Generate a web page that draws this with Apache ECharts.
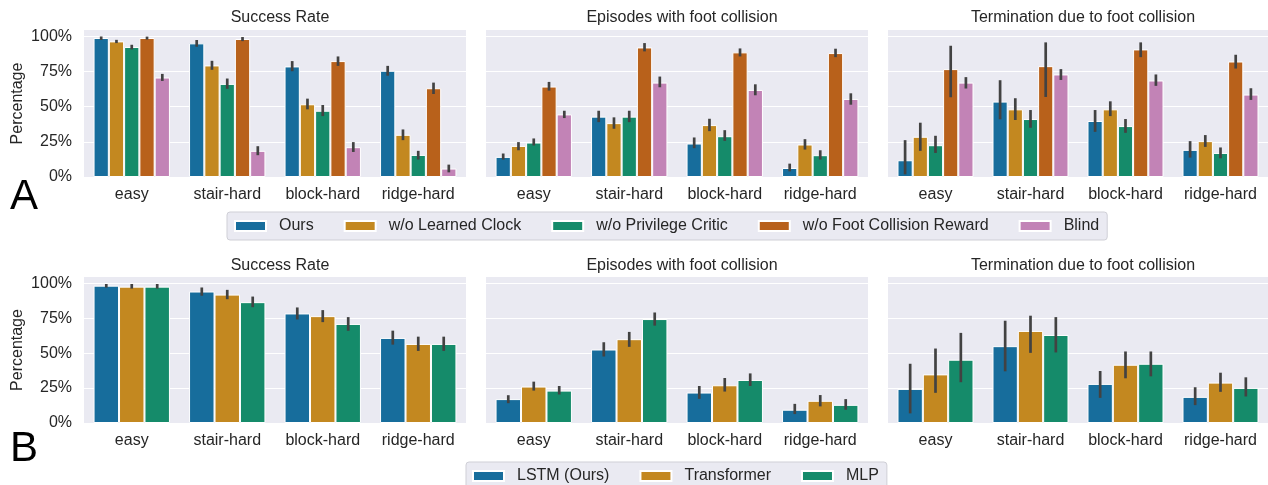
<!DOCTYPE html>
<html><head><meta charset="utf-8">
<script src="https://cdn.jsdelivr.net/npm/echarts@6/dist/echarts.min.js"></script>
<style>html,body{margin:0;padding:0;background:#fff}#c{width:1268px;height:485px}</style>
</head><body><div id="c"></div>
<script>
const categories = ['easy', 'stair-hard', 'block-hard', 'ridge-hard'];
const titles = ['Success Rate', 'Episodes with foot collision', 'Termination due to foot collision'];
const yTicks = [0, 0.25, 0.5, 0.75, 1.0];
const namesA = ['Ours', 'w/o Learned Clock', 'w/o Privilege Critic', 'w/o Foot Collision Reward', 'Blind'];
const namesB = ['LSTM (Ours)', 'Transformer', 'MLP'];

// Row A, panel 1: Success Rate (mean, low, high per series)
const A1_mean = [[0.988,0.95,0.786,0.755],[0.964,0.793,0.517,0.30],[0.924,0.662,0.471,0.157],[0.988,0.981,0.824,0.631],[0.707,0.186,0.212,0.06]];
const A1_lo   = [[0.974,0.926,0.752,0.72],[0.952,0.762,0.481,0.262],[0.907,0.627,0.433,0.124],[0.977,0.966,0.79,0.59],[0.683,0.155,0.178,0.033]];
const A1_hi   = [[0.999,0.974,0.824,0.79],[0.975,0.826,0.557,0.338],[0.94,0.7,0.512,0.186],[0.998,0.995,0.857,0.671],[0.733,0.219,0.248,0.088]];
// Row A, panel 2: Episodes with foot collision
const A2_mean = [[0.143,0.429,0.238,0.064],[0.221,0.383,0.369,0.231],[0.245,0.429,0.29,0.155],[0.643,0.921,0.886,0.881],[0.445,0.671,0.619,0.555]];
const A2_lo   = [[0.124,0.39,0.205,0.04],[0.19,0.343,0.326,0.195],[0.224,0.39,0.257,0.124],[0.614,0.893,0.857,0.852],[0.419,0.638,0.581,0.514]];
const A2_hi   = [[0.167,0.471,0.281,0.095],[0.248,0.424,0.414,0.269],[0.274,0.471,0.333,0.19],[0.676,0.952,0.914,0.912],[0.471,0.714,0.659,0.595]];
// Row A, panel 3: Termination due to foot collision
const A3_mean = [[0.119,0.536,0.398,0.193],[0.286,0.481,0.481,0.255],[0.226,0.412,0.362,0.171],[0.767,0.788,0.907,0.821],[0.671,0.729,0.686,0.586]];
const A3_lo   = [[0.019,0.41,0.321,0.138],[0.186,0.405,0.433,0.214],[0.171,0.35,0.314,0.133],[0.567,0.569,0.852,0.771],[0.629,0.69,0.648,0.548]];
const A3_hi   = [[0.262,0.688,0.476,0.255],[0.386,0.56,0.538,0.298],[0.293,0.476,0.412,0.21],[0.933,0.957,0.957,0.869],[0.71,0.767,0.729,0.631]];
// Row B, panel 1: Success Rate
const B1_mean = [[0.983,0.941,0.784,0.609],[0.976,0.919,0.765,0.566],[0.976,0.865,0.709,0.566]];
const B1_lo   = [[0.969,0.911,0.741,0.561],[0.962,0.886,0.722,0.516],[0.962,0.829,0.66,0.516]];
const B1_hi   = [[0.995,0.97,0.827,0.661],[0.995,0.953,0.808,0.618],[0.995,0.905,0.758,0.618]];
// Row B, panel 2: Episodes with foot collision
const B2_mean = [[0.171,0.526,0.218,0.095],[0.261,0.60,0.27,0.159],[0.232,0.744,0.308,0.13]];
const B2_lo   = [[0.142,0.476,0.173,0.064],[0.232,0.545,0.225,0.119],[0.204,0.697,0.265,0.095]];
const B2_hi   = [[0.199,0.578,0.265,0.137],[0.296,0.652,0.322,0.2],[0.265,0.791,0.355,0.171]];
// Row B, panel 3: Termination due to foot collision
const B3_mean = [[0.244,0.55,0.28,0.187],[0.348,0.659,0.417,0.289],[0.453,0.63,0.424,0.251]];
const B3_lo   = [[0.069,0.37,0.18,0.128],[0.216,0.502,0.32,0.223],[0.292,0.505,0.334,0.19]];
const B3_hi   = [[0.424,0.732,0.372,0.256],[0.533,0.768,0.512,0.36],[0.645,0.758,0.512,0.327]];

const colorsA = ['#176d9c','#c38820','#158b6a','#b8611b','#c283b6'];
const colorsB = ['#176d9c','#c38820','#158b6a'];

const FONT = 'Liberation Sans, Arial, sans-serif';
const TXT = '#262626';
const FS = 16;
const gridsPos = [
  {left:84, width:382, top:30, height:147},
  {left:486, width:382, top:30, height:147},
  {left:888, width:380, top:30, height:147},
  {left:84, width:382, top:277, height:146},
  {left:486, width:382, top:277, height:146},
  {left:888, width:380, top:277, height:146}
];
const panels = [
  {m:A1_mean, lo:A1_lo, hi:A1_hi, names:namesA, colors:colorsA},
  {m:A2_mean, lo:A2_lo, hi:A2_hi, names:namesA, colors:colorsA},
  {m:A3_mean, lo:A3_lo, hi:A3_hi, names:namesA, colors:colorsA},
  {m:B1_mean, lo:B1_lo, hi:B1_hi, names:namesB, colors:colorsB},
  {m:B2_mean, lo:B2_lo, hi:B2_hi, names:namesB, colors:colorsB},
  {m:B3_mean, lo:B3_lo, hi:B3_hi, names:namesB, colors:colorsB}
];

const grid = [], xAxis = [], yAxis = [], series = [], title = [];
panels.forEach((p, gi) => {
  const g = gridsPos[gi];
  grid.push(Object.assign({show:true, backgroundColor:'#eaeaf2', borderWidth:0, containLabel:false}, g));
  title.push({text: titles[gi % 3], left: g.left + g.width/2, top: gi < 3 ? 5 : 253, textAlign:'center',
    textStyle:{fontFamily:FONT, fontSize:FS, fontWeight:'normal', color:TXT}});
  xAxis.push({type:'category', gridIndex:gi, data:categories, axisLine:{show:false}, axisTick:{show:false},
    axisLabel:{interval:0, hideOverlap:false, fontFamily:FONT, fontSize:FS, color:TXT, margin:10}, splitLine:{show:false}});
  const first = gi % 3 === 0;
  yAxis.push({type:'value', gridIndex:gi, min:0, max:1.045, interval:0.25,
    axisLine:{show:false}, axisTick:{show:false},
    axisLabel:{show:first, fontFamily:FONT, fontSize:FS, color:TXT, margin:12, showMaxLabel:false,
      formatter: v => yTicks.some(t => Math.abs(t - v) < 1e-6) ? Math.round(v*100) + '%' : ''},
    splitLine:{show:true, showMaxLine:false, lineStyle:{color:'#ffffff', width:1}},
    name: first ? 'Percentage' : '', nameLocation:'middle', nameGap:58,
    nameTextStyle:{fontFamily:FONT, fontSize:FS, color:TXT}});
  const n = p.m.length;
  p.m.forEach((vals, si) => {
    series.push({type:'bar', name:p.names[si], xAxisIndex:gi, yAxisIndex:gi, data:vals,
      barCategoryGap:'20%', barGap:'0%', itemStyle:{color:p.colors[si], borderColor:'#ffffff', borderWidth:1},
      animation:false, z:2});
  });
  p.m.forEach((vals, si) => {
    const data = vals.map((v, ci) => [ci, p.lo[si][ci], p.hi[si][ci]]);
    series.push({type:'custom', xAxisIndex:gi, yAxisIndex:gi, data:data, animation:false, z:5, silent:true,
      renderItem: (params, api) => {
        const ci = api.value(0);
        const band = api.size([1, 0])[0];
        const gw = band * 0.8, bw = gw / n;
        const c0 = api.coord([ci, api.value(1)]);
        const c1 = api.coord([ci, api.value(2)]);
        const x = c0[0] - gw/2 + (si + 0.5) * bw;
        return {type:'line', shape:{x1:x, y1:c0[1], x2:x, y2:c1[1]},
          style:{stroke:'#424242', lineWidth:2.7, lineCap:'butt'}};
      }});
  });
});

const legendBase = {orient:'horizontal', itemWidth:31, itemHeight:10, itemGap:30, icon:'rect',
  backgroundColor:'#eaeaf2', borderColor:'#cfcfd6', borderWidth:1, borderRadius:3,
  textStyle:{fontFamily:FONT, fontSize:FS, color:TXT, padding:[0,0,0,8]}, selectedMode:false};
const legend = [
  Object.assign({}, legendBase, {data:namesA, left:227, top:212, padding:[6,8,6,7]}),
  Object.assign({}, legendBase, {data:namesB, left:466, top:462, padding:[6,8,6,6]})
];

const chart = echarts.init(document.getElementById('c'), null, {renderer:'canvas'});
chart.setOption({
  animation:false, backgroundColor:'#ffffff',
  color: colorsA,
  title, grid, xAxis, yAxis, series, legend,
  graphic:[
    {type:'text', x:10, y:197, style:{text:'A', fontFamily:FONT, fontSize:42, fill:'#000', verticalAlign:'middle'}},
    {type:'text', x:10, y:449, style:{text:'B', fontFamily:FONT, fontSize:42, fill:'#000', verticalAlign:'middle'}}
  ]
});
</script></body></html>
